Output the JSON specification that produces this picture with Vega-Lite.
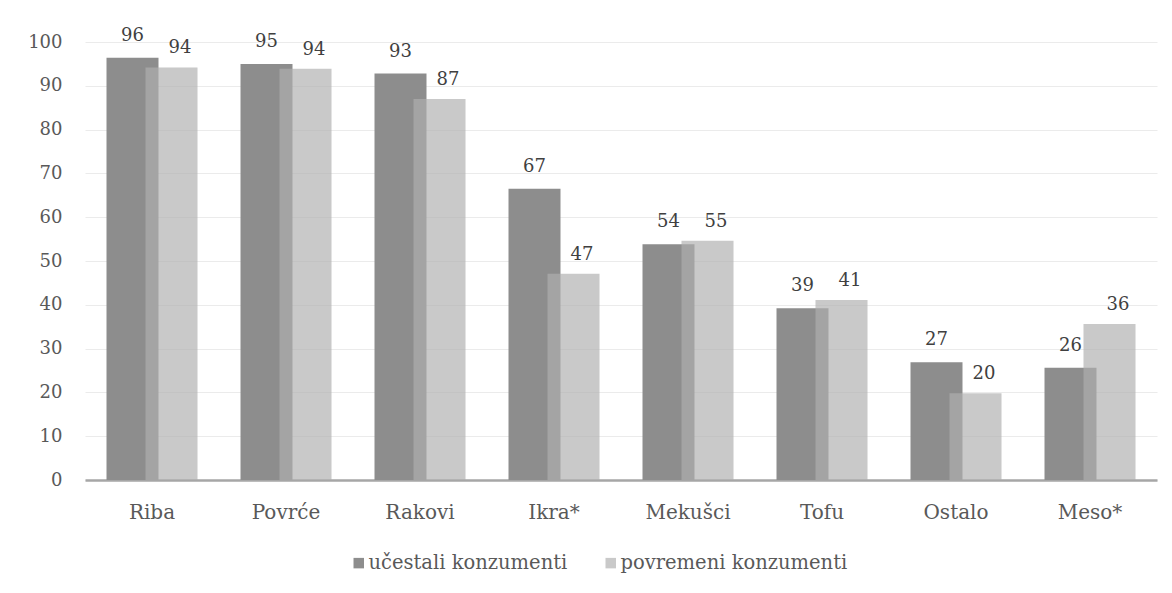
{
  "$schema": "https://vega.github.io/schema/vega-lite/v6.json",
  "width": 1072,
  "height": 438,
  "autosize": {"type": "none"},
  "padding": {"left": 85, "top": 42, "right": 15, "bottom": 113},
  "background": "white",
  "config": {
    "font": "DejaVu Serif",
    "view": {"stroke": null},
    "text": {"font": "DejaVu Serif"},
    "axis": {"labelFont": "DejaVu Serif", "labelColor": "#595959", "titleColor": "#595959"},
    "legend": {"labelFont": "DejaVu Serif"}
  },
  "data": {
    "values": [
      {"cat": "Riba", "series": "učestali konzumenti", "value": 96.4},
      {"cat": "Riba", "series": "povremeni konzumenti", "value": 94.2},
      {"cat": "Povrće", "series": "učestali konzumenti", "value": 95.0},
      {"cat": "Povrće", "series": "povremeni konzumenti", "value": 93.9},
      {"cat": "Rakovi", "series": "učestali konzumenti", "value": 92.8},
      {"cat": "Rakovi", "series": "povremeni konzumenti", "value": 87.0},
      {"cat": "Ikra*", "series": "učestali konzumenti", "value": 66.5},
      {"cat": "Ikra*", "series": "povremeni konzumenti", "value": 47.1},
      {"cat": "Mekušci", "series": "učestali konzumenti", "value": 53.8},
      {"cat": "Mekušci", "series": "povremeni konzumenti", "value": 54.6},
      {"cat": "Tofu", "series": "učestali konzumenti", "value": 39.2},
      {"cat": "Tofu", "series": "povremeni konzumenti", "value": 41.1},
      {"cat": "Ostalo", "series": "učestali konzumenti", "value": 26.9},
      {"cat": "Ostalo", "series": "povremeni konzumenti", "value": 19.8},
      {"cat": "Meso*", "series": "učestali konzumenti", "value": 25.6},
      {"cat": "Meso*", "series": "povremeni konzumenti", "value": 35.6}
    ]
  },
  "encoding": {
    "x": {
      "field": "cat", "type": "nominal", "sort": null,
      "scale": {"paddingInner": 0, "paddingOuter": 0},
      "axis": {
        "title": null, "labelAngle": 0, "labelFontSize": 20, "labelPadding": 22,
        "ticks": false, "domainColor": "#a6a6a6", "domainWidth": 2.5, "grid": false
      }
    },
    "y": {
      "field": "value", "type": "quantitative",
      "scale": {"domain": [0, 100], "nice": false},
      "axis": {
        "title": null, "values": [0, 10, 20, 30, 40, 50, 60, 70, 80, 90, 100],
        "labelFontSize": 18, "labelPadding": 23, "ticks": false, "domain": false,
        "gridColor": "#ebebeb", "gridWidth": 1.2
      }
    }
  },
  "layer": [
    {
      "transform": [{"filter": "datum.series === 'učestali konzumenti'"}],
      "mark": {"type": "bar", "width": 52, "xOffset": -19.5},
      "encoding": {
        "color": {
          "field": "series", "type": "nominal", "title": null,
          "scale": {"domain": ["učestali konzumenti", "povremeni konzumenti"], "range": ["#8d8d8d", "#b0b0b0"]},
          "legend": {
            "orient": "none", "direction": "horizontal", "legendX": 264, "legendY": 511,
            "symbolType": "square", "symbolSize": 110, "symbolStrokeWidth": 0,
            "labelFontSize": 19.5, "labelColor": "#595959",
            "labelOffset": 0, "columnPadding": 33, "labelLimit": 400
          }
        },
        "opacity": {
          "field": "series", "type": "nominal", "title": null,
          "scale": {"domain": ["učestali konzumenti", "povremeni konzumenti"], "range": [1, 0.68]}
        }
      }
    },
    {
      "transform": [{"filter": "datum.series === 'povremeni konzumenti'"}],
      "mark": {"type": "bar", "width": 52, "xOffset": 19.5},
      "encoding": {
        "color": {"field": "series", "type": "nominal", "title": null},
        "opacity": {"field": "series", "type": "nominal", "title": null}
      }
    },
    {
      "transform": [{"filter": "datum.series === 'učestali konzumenti'"}],
      "mark": {"type": "text", "xOffset": -19.5, "dy": -17, "baseline": "alphabetic", "fontSize": 18, "color": "#404040"},
      "encoding": {"text": {"field": "value", "type": "quantitative", "format": ".0f"}}
    },
    {
      "transform": [{"filter": "datum.series === 'povremeni konzumenti'"}],
      "mark": {"type": "text", "xOffset": 28, "dy": -14, "baseline": "alphabetic", "fontSize": 18, "color": "#404040"},
      "encoding": {"text": {"field": "value", "type": "quantitative", "format": ".0f"}}
    }
  ]
}
